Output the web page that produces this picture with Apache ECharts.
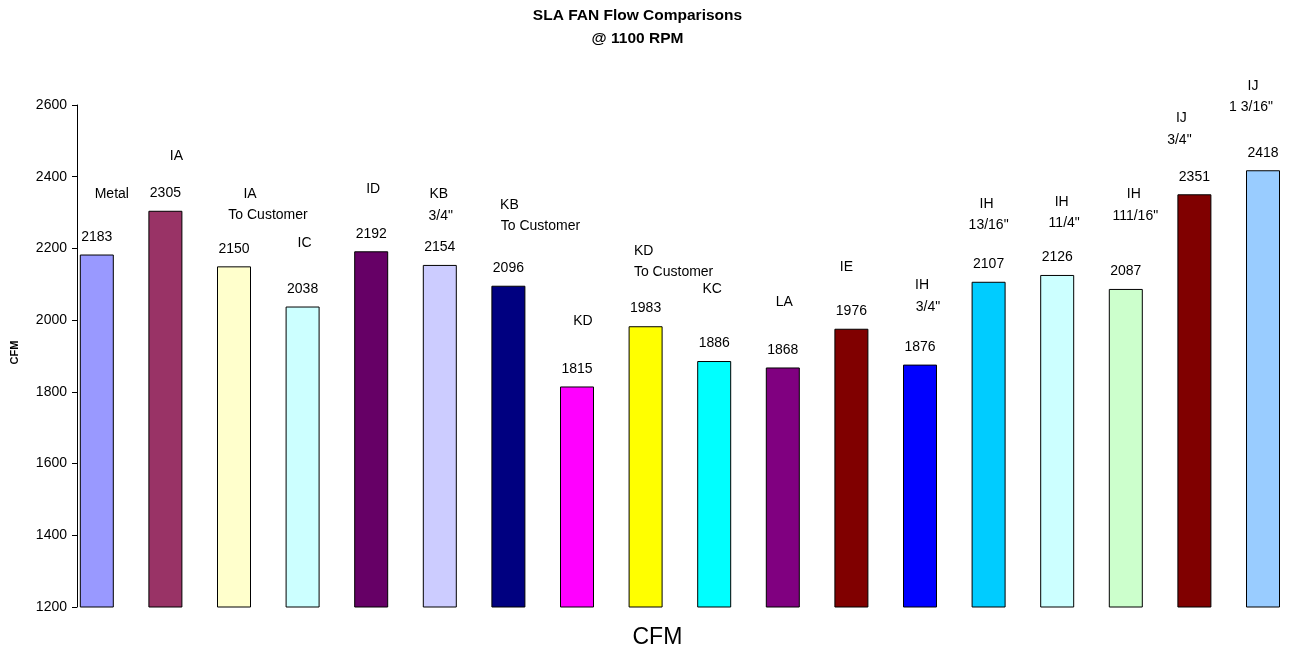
<!DOCTYPE html>
<html>
<head>
<meta charset="utf-8">
<script src="https://cdn.jsdelivr.net/npm/echarts@6/dist/echarts.min.js"></script>
<style>
html,body{margin:0;padding:0;background:#fff;}
#chart{width:1294px;height:654px;}
</style>
</head>
<body>
<div id="chart"></div>
<script>
// ---- data ----
var categories = ['Metal','IA','IA To Customer','IC','ID','KB 3/4"','KB To Customer','KD','KD To Customer','KC','LA','IE','IH 3/4"','IH 13/16"','IH 11/4"','IH 111/16"','IJ 3/4"','IJ 1 3/16"'];
var nameLine1 = ['Metal','IA','IA','IC','ID','KB','KB','KD','KD','KC','LA','IE','IH','IH','IH','IH','IJ','IJ'];
var nameLine2 = ['','','To Customer','','','3/4"','To Customer','','To Customer','','','','3/4"','13/16"','11/4"','111/16"','3/4"','1 3/16"'];
var values = [2183,2305,2150,2038,2192,2154,2096,1815,1983,1886,1868,1976,1876,2107,2126,2087,2351,2418];
var yTicks = [1200,1400,1600,1800,2000,2200,2400,2600];

// ---- styles / label layout (separate from data) ----
var colors = ['#9999FF','#993366','#FFFFCC','#CCFFFF','#660066','#CCCCFF','#000080','#FF00FF','#FFFF00','#00FFFF','#800080','#800000','#0000FF','#00CCFF','#CCFFFF','#CCFFCC','#800000','#99CCFF'];
var line1Offsets = [[15,-53],[11,-48],[16,-65],[2,-56],[2,-55],[-1,-64],[1,-74],[6,-58],[-2,-68],[-2,-65],[1.5,-58],[-5,-55],[2,-72],[-2,-71],[4.5,-66],[8,-88],[-13,-69],[-10,-77]];
var line2Offsets = [[0,0],[0,0],[34,-44],[0,0],[0,0],[1,-42],[32,-53],[0,0],[28,-47],[0,0],[0,0],[0,0],[8,-50],[0,-50],[7,-45],[9.5,-66],[-15,-47],[-12,-56]];

var FONT = "'Liberation Sans', Arial, sans-serif";

var barData = values.map(function (v, i) {
  return { value: v, itemStyle: { color: colors[i] } };
});
function labelData(offsets) {
  return values.map(function (v, i) {
    return { value: v, label: { offset: offsets[i] } };
  });
}

var chart = echarts.init(document.getElementById('chart'), null, { renderer: 'canvas' });
chart.setOption({
  animation: false,
  backgroundColor: '#ffffff',
  title: {
    text: 'SLA FAN Flow Comparisons\n@ 1100 RPM',
    left: 637.5,
    top: 4,
    padding: 0,
    textAlign: 'center',
    textStyle: { fontFamily: FONT, fontSize: 15.5, fontWeight: 'bold', color: '#000', lineHeight: 23 }
  },
  grid: { left: 62.5, top: 105, width: 1234.8, height: 502, containLabel: false, outerBoundsMode: 'none' },
  xAxis: {
    type: 'category',
    data: categories,
    boundaryGap: true,
    axisLine: { show: false },
    axisTick: { show: false },
    axisLabel: { show: false },
    splitLine: { show: false },
    name: 'CFM',
    nameLocation: 'middle',
    nameGap: 19,
    nameTextStyle: { fontFamily: FONT, fontSize: 23, color: '#000', padding: [0, 45, 0, 0] }
  },
  yAxis: {
    type: 'value',
    min: 1200,
    max: 2600,
    interval: 200,
    offset: -14.5,
    axisLine: { show: true, lineStyle: { color: '#000', width: 1 } },
    axisTick: { show: true, length: 5, inside: false, lineStyle: { color: '#000' } },
    axisLabel: {
      fontFamily: FONT, fontSize: 14, color: '#000', margin: 10,
      formatter: function (v) { return yTicks.indexOf(v) >= 0 ? String(v) : ''; }
    },
    splitLine: { show: false },
    name: 'CFM',
    nameLocation: 'middle',
    nameGap: 57,
    nameRotate: 90,
    nameTextStyle: { fontFamily: FONT, fontSize: 11, fontWeight: 'bold', color: '#000', padding: [0, 0, 0, 7] }
  },
  series: [
    {
      type: 'bar',
      data: barData,
      barWidth: 34,
      barGap: '-100%',
      itemStyle: { borderColor: '#000', borderWidth: 1 },
      label: {
        show: true, position: 'top', distance: 10.6,
        fontFamily: FONT, fontSize: 14, color: '#000', lineHeight: 14
      },
      z: 2
    },
    {
      type: 'bar',
      data: labelData(line1Offsets),
      barWidth: 34,
      barGap: '-100%',
      silent: true,
      itemStyle: { color: 'rgba(0,0,0,0)', borderWidth: 0 },
      label: {
        show: true, position: 'top', distance: 0,
        fontFamily: FONT, fontSize: 14, color: '#000', lineHeight: 14,
        formatter: function (p) { return nameLine1[p.dataIndex]; }
      },
      z: 3
    },
    {
      type: 'bar',
      data: labelData(line2Offsets),
      barWidth: 34,
      barGap: '-100%',
      silent: true,
      itemStyle: { color: 'rgba(0,0,0,0)', borderWidth: 0 },
      label: {
        show: true, position: 'top', distance: 0,
        fontFamily: FONT, fontSize: 14, color: '#000', lineHeight: 14,
        formatter: function (p) { return nameLine2[p.dataIndex]; }
      },
      z: 3
    }
  ]
});
</script>
</body>
</html>
